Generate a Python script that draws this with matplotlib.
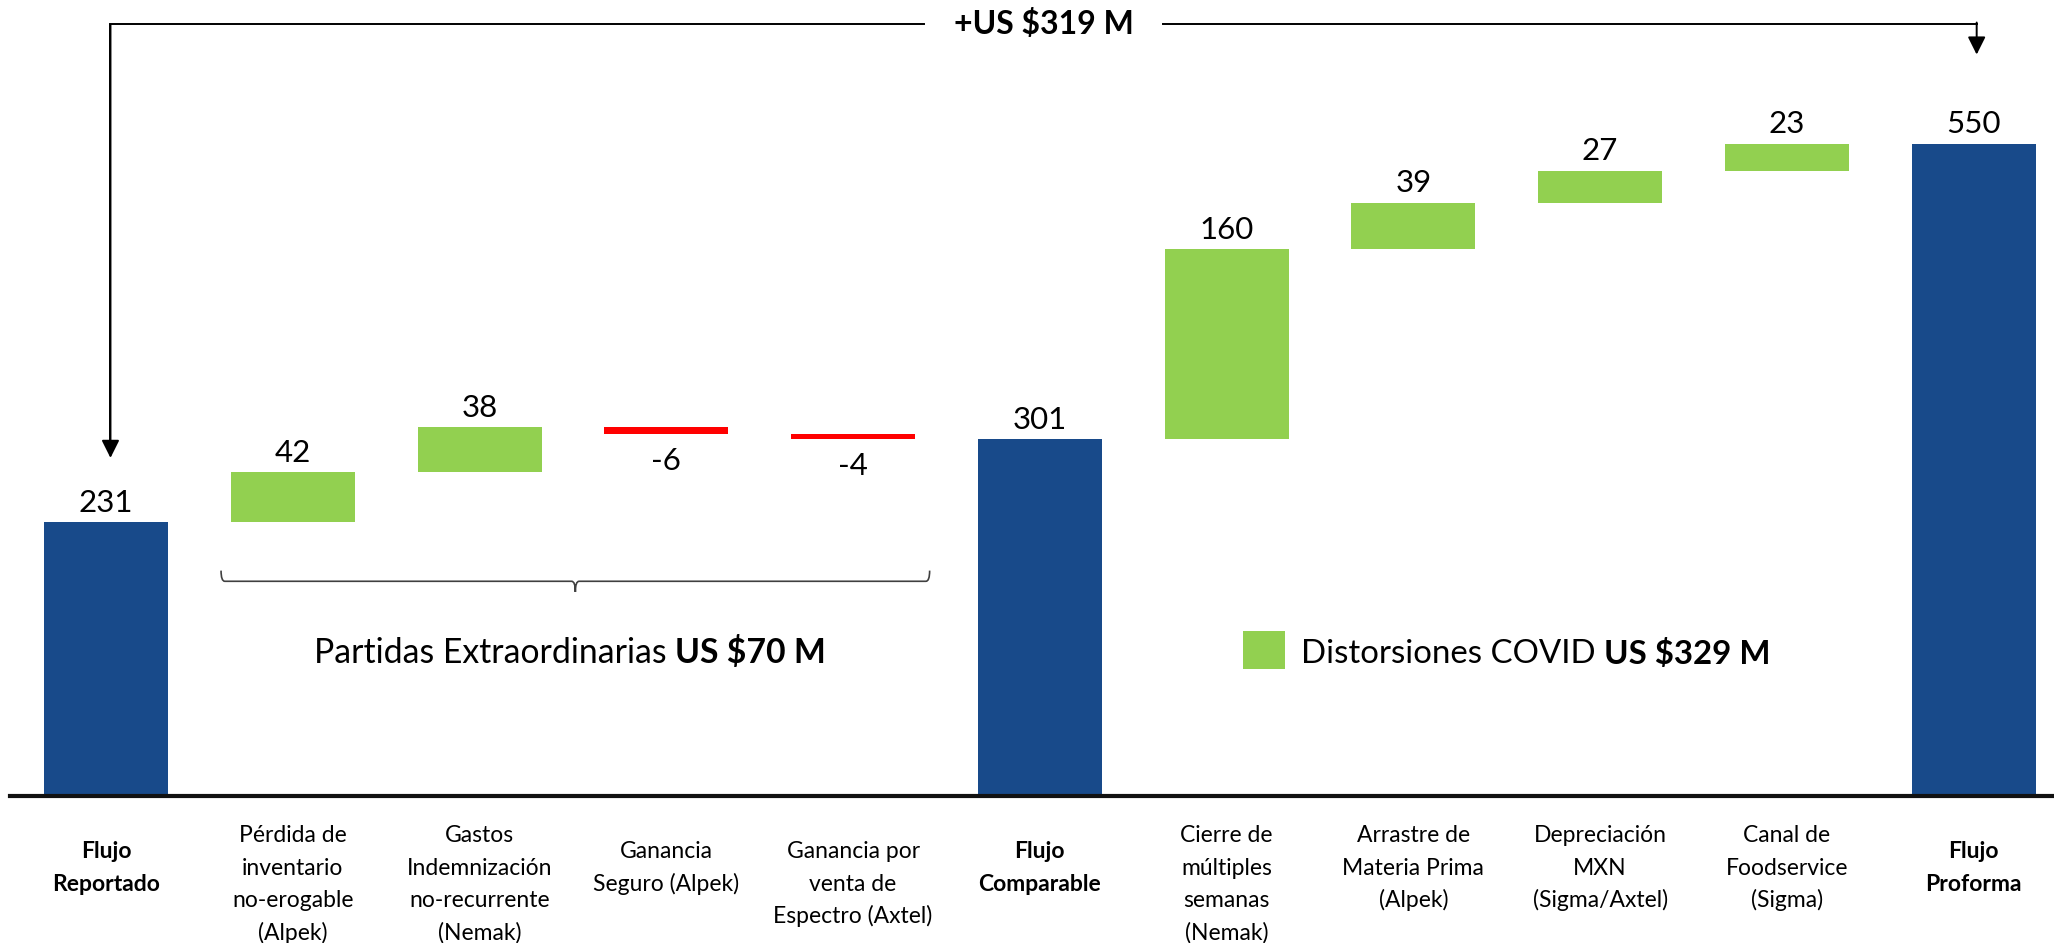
import matplotlib
matplotlib.use("Agg")
import matplotlib.pyplot as plt
from matplotlib.patches import Rectangle, PathPatch
from matplotlib.path import Path

# ---------------- data ----------------
categories = [
    "Flujo\nReportado",
    "Pérdida de\ninventario\nno-erogable\n(Alpek)",
    "Gastos\nIndemnización\nno-recurrente\n(Nemak)",
    "Ganancia\nSeguro (Alpek)",
    "Ganancia por\nventa de\nEspectro (Axtel)",
    "Flujo\nComparable",
    "Cierre de\nmúltiples\nsemanas\n(Nemak)",
    "Arrastre de\nMateria Prima\n(Alpek)",
    "Depreciación\nMXN\n(Sigma/Axtel)",
    "Canal de\nFoodservice\n(Sigma)",
    "Flujo\nProforma",
]
values = [231, 42, 38, -6, -4, 301, 160, 39, 27, 23, 550]
kinds = ["total", "delta", "delta", "delta", "delta", "total",
         "delta", "delta", "delta", "delta", "total"]
value_labels = ["231", "42", "38", "-6", "-4", "301", "160", "39", "27", "23", "550"]

group_extra_text = "Partidas Extraordinarias"
group_extra_amount = "US $70 M"
group_covid_text = "Distorsiones COVID"
group_covid_amount = "US $329 M"
bridge_text = "+US $319 M"

# ---------------- style ----------------
BLUE = "#184A8A"
GREEN = "#92D050"
RED = "#FF0000"
FONT = ["Lato", "DejaVu Sans"]
plt.rcParams["font.family"] = FONT

W, H = 2054, 943
fig = plt.figure(figsize=(W / 100, H / 100), dpi=100)
ax = fig.add_axes([10 / W, 147 / H, 2044 / W, 796 / H])
ax.set_xlim(-0.514, 10.43)
ax.set_ylim(0, 671)
for s in ["top", "left", "right"]:
    ax.spines[s].set_visible(False)
ax.spines["bottom"].set_linewidth(3.0)
ax.spines["bottom"].set_color("#111111")
ax.set_xticks([])
ax.set_yticks([])

bar_w = 0.664
running = 0
for i, (v, k) in enumerate(zip(values, kinds)):
    if k == "total":
        bottom, height, color = 0, v, BLUE
        running = v
    else:
        if v >= 0:
            bottom, height, color = running, v, GREEN
        else:
            bottom, height, color = running + v, -v, RED
        running += v
    ax.bar(i, height, bottom=bottom, width=bar_w, color=color, linewidth=0, zorder=2)
    if k == "total" or v >= 0:
        ax.annotate(value_labels[i], xy=(i, bottom + height), xytext=(0, 7.5),
                    textcoords="offset points", ha="center", va="baseline",
                    fontsize=22.5, color="black")
    else:
        ax.annotate(value_labels[i], xy=(i, bottom), xytext=(0, -26),
                    textcoords="offset points", ha="center", va="baseline",
                    fontsize=22.5, color="black")

# ---------------- category labels ----------------
line_step = 27.4
for i, lab in enumerate(categories):
    lines = lab.split("\n")
    late_start = i in (0, 3, 4, 5, 10)
    y0 = -52.4 if late_start else -38.9
    bold = kinds[i] == "total"
    for j, ln in enumerate(lines):
        ax.text(i, y0 - j * line_step, ln, ha="center", va="baseline",
                fontsize=16.5, fontweight="bold" if bold else "normal",
                clip_on=False, color="black")

# ---------------- brace under extraordinary items ----------------
bx0, bx1, by = 0.616, 4.41, 181
bxc = (bx0 + bx1) / 2
dx, dy = 0.02, 9
verts = [
    (bx0, by + dy), (bx0, by), (bx0 + dx, by),
    (bxc - dx, by), (bxc, by), (bxc, by - dy),
    (bxc, by), (bxc + dx, by),
    (bx1 - dx, by), (bx1, by), (bx1, by + dy),
]
codes = [Path.MOVETO, Path.CURVE3, Path.CURVE3,
         Path.LINETO, Path.CURVE3, Path.CURVE3,
         Path.CURVE3, Path.CURVE3,
         Path.LINETO, Path.CURVE3, Path.CURVE3]
ax.add_patch(PathPatch(Path(verts, codes), fill=False, edgecolor="#404040", lw=1.2))

# ---------------- group texts ----------------
t1 = ax.text(1.114, 112.4, group_extra_text, ha="left", va="baseline", fontsize=24.3)
ax.annotate(group_extra_amount, xy=(1, 0), xycoords=t1, xytext=(6, 0),
            textcoords="offset points", ha="left", va="bottom",
            fontsize=24.3, fontweight="bold")

ax.add_patch(Rectangle((6.09, 107), 0.22, 32.5, facecolor=GREEN, edgecolor="none"))
t2 = ax.text(6.40, 112.4, group_covid_text, ha="left", va="baseline", fontsize=23.8)
ax.annotate(group_covid_amount, xy=(1, 0), xycoords=t2, xytext=(6, 0),
            textcoords="offset points", ha="left", va="bottom",
            fontsize=23.8, fontweight="bold")

# ---------------- bridge arrow ----------------
y_top = 651
xl, xr = 0.024, 10.016
left_tip = values[0] + 54
right_tip = values[-1] + 75
ax.plot([xl, xl], [left_tip + 5, y_top], color="black", lw=1.4, solid_capstyle="butt")
ax.plot([xl, 4.38], [y_top, y_top], color="black", lw=1.4)
ax.plot([5.66, xr], [y_top, y_top], color="black", lw=1.4)
aprops = dict(arrowstyle="-|>,head_length=0.6,head_width=0.3", mutation_scale=18,
              color="black", lw=1.4, shrinkA=0, shrinkB=0)
ax.annotate("", xy=(xl, left_tip), xytext=(xl, y_top - 1), arrowprops=aprops)
ax.annotate("", xy=(xr, right_tip), xytext=(xr, y_top + 1), arrowprops=aprops)
ax.text(5.02, y_top, bridge_text, ha="center", va="center", fontsize=23,
        fontweight="bold")

fig.savefig("out.png", dpi=100)
